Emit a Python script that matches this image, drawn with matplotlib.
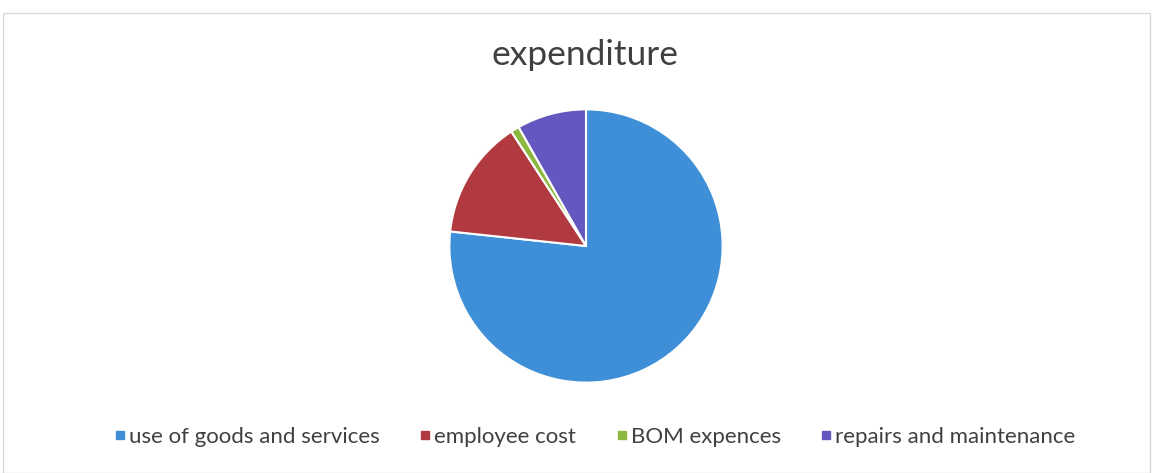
import matplotlib.pyplot as plt
from matplotlib.patches import Rectangle
from matplotlib.lines import Line2D

labels = ['use of goods and services', 'employee cost', 'BOM expences', 'repairs and maintenance']
values = [76.7, 14.1, 1.0, 8.2]
colors = ['#3f8fd8', '#b13a40', '#8db83f', '#6457c0']

plt.rcParams['font.family'] = ['Lato', 'DejaVu Sans']

fig = plt.figure(figsize=(11.54, 4.73), dpi=100)

# light frame round the chart area
fig.patches.append(Rectangle((3 / 1154, 0), 1147 / 1154, 1 - 13 / 473, transform=fig.transFigure,
                             fill=False, edgecolor='#d9d9d9', linewidth=1))

cx, cy, r = 586, 246, 138
ax = fig.add_axes([(cx - r) / 1154, 1 - (cy + r) / 473, 2 * r / 1154, 2 * r / 473])
ax.pie(values, colors=colors, startangle=90, counterclock=False,
       wedgeprops=dict(edgecolor='white', linewidth=1.5))
ax.set_xlim(-1.01, 1.01)
ax.set_ylim(-1.01, 1.01)
ax.set_aspect('equal')
ax.axis('off')

fig.text(585 / 1154, 1 - 55 / 473, 'expenditure', ha='center', va='center',
         fontsize=25.5, color='#404040')

handles = [Line2D([], [], marker='s', linestyle='', markersize=6, color=c) for c in colors]
fig.legend(handles, labels, loc='center', bbox_to_anchor=(594 / 1154, 1 - 437 / 473), ncol=4,
           frameon=False, fontsize=16, handletextpad=0.05, columnspacing=1.7,
           handlelength=0.7, labelcolor='#404040')

fig.savefig('out.png', dpi=100)
